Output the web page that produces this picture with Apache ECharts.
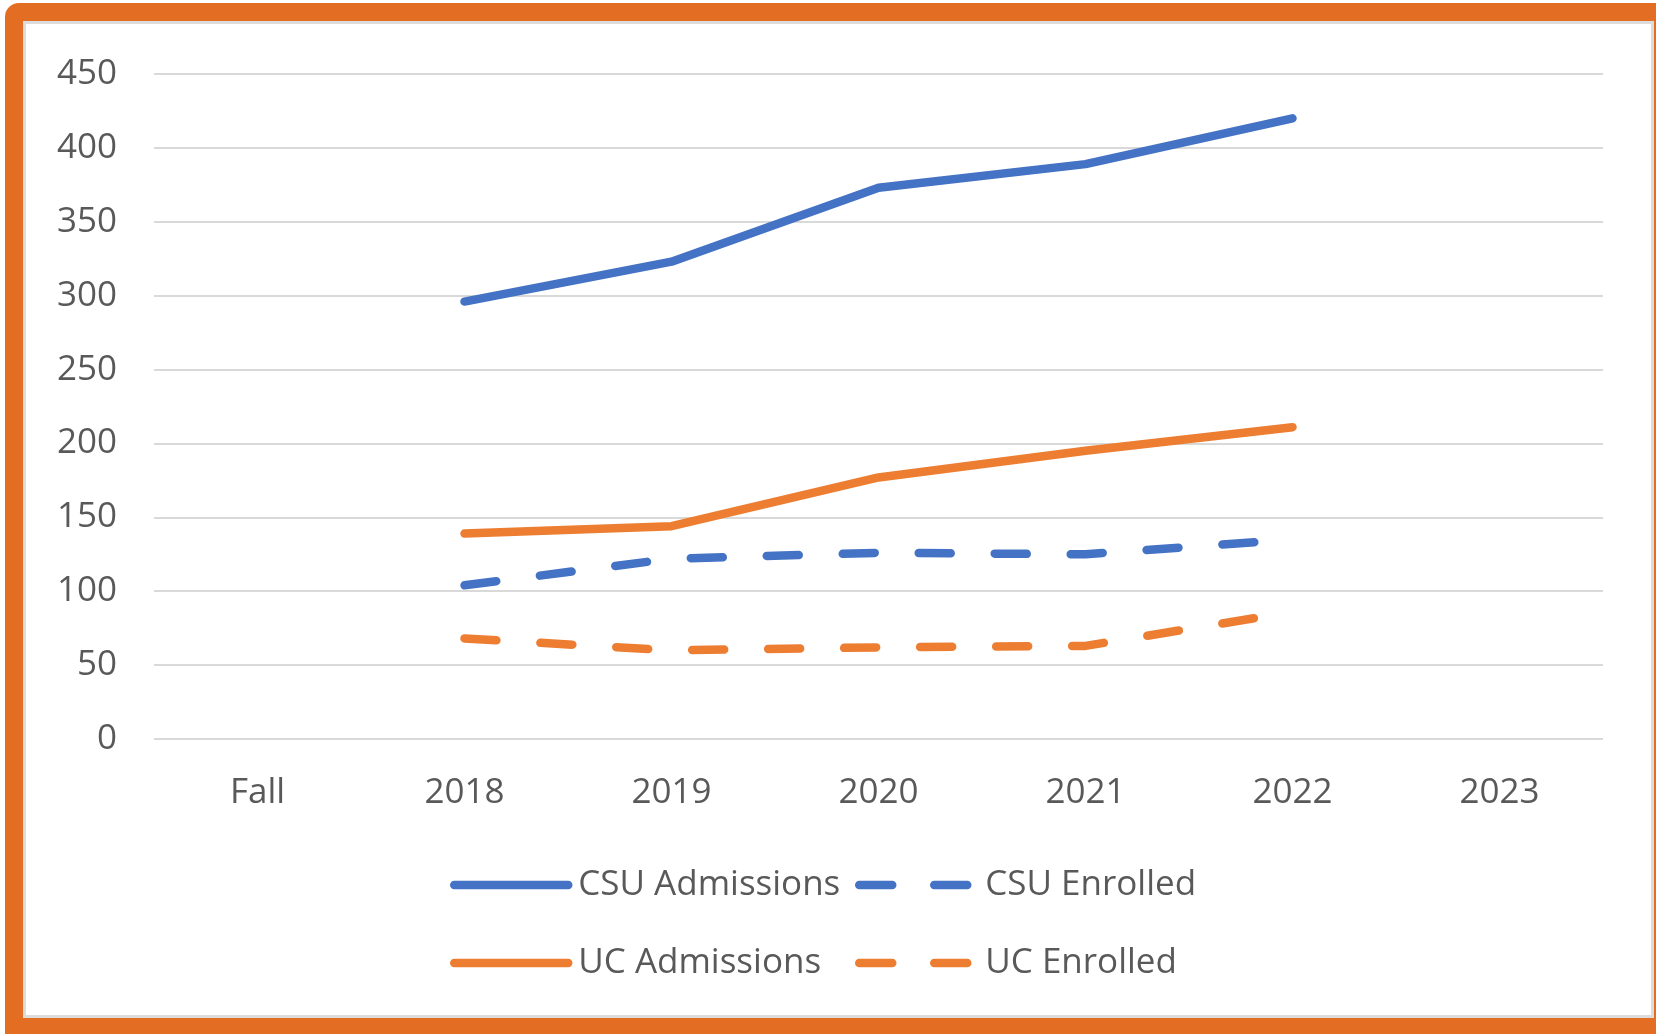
<!DOCTYPE html>
<html>
<head>
<meta charset="utf-8">
<script src="https://cdn.jsdelivr.net/npm/echarts@6/dist/echarts.min.js"></script>
<style>
html,body{margin:0;padding:0;background:#fff;overflow:hidden;}
#chart{position:absolute;left:0;top:0;width:1656px;height:1034px;}
#frame{position:absolute;left:5px;top:3px;width:1667px;height:1033px;box-sizing:border-box;border:18px solid #E46D24;border-radius:14px 0 0 0;box-shadow:inset 0 0 0 3px #DCDCDC;pointer-events:none;z-index:5;}
</style>
</head>
<body>
<div id="chart"></div>
<div id="frame"></div>
<script>
const categories = ['Fall', '2018', '2019', '2020', '2021', '2022', '2023'];
const csuAdmissions = ['-', 296, 323, 373, 389, 420, '-'];
const csuEnrolled   = ['-', 104, 122, 126, 125, 135, '-'];
const ucAdmissions  = ['-', 139, 144, 177, 195, 211, '-'];
const ucEnrolled    = ['-', 68, 60, 62, 63, 86, '-'];

const BLUE = '#4472C4', ORANGE = '#ED7D31', TXT = '#595959';
const FONT = '"Open Sans", sans-serif';
const LW = 8.5;
const DASH = [32, 44];

const chart = echarts.init(document.getElementById('chart'), null, {renderer: 'canvas'});
function line(name, data, color, dashed) {
  return {
    name, type: 'line', data, symbol: 'none', smooth: false,
    lineStyle: {color, width: LW, type: dashed ? DASH : 'solid', cap: 'round', join: 'round'},
    itemStyle: {color}
  };
}
const legendCommon = {
  orient: 'vertical', top: 864, padding: 0, itemWidth: 114, itemHeight: 14, itemGap: 36,
  itemStyle: {color: 'transparent', borderWidth: 0, opacity: 0}
};
const legendText = (pad) => ({fontFamily: FONT, fontSize: 35, color: TXT, padding: [0, 0, 0, pad], lineHeight: 42});
chart.setOption({
  backgroundColor: 'transparent',
  animation: false,
  grid: {left: 154, right: 53, top: 74, bottom: 295},
  xAxis: {
    type: 'category', data: categories, boundaryGap: true,
    axisLine: {show: false}, axisTick: {show: false},
    axisLabel: {fontFamily: FONT, fontSize: 35, color: TXT, margin: 37}
  },
  yAxis: {
    type: 'value', min: 0, max: 450, interval: 50,
    axisLine: {show: false}, axisTick: {show: false},
    axisLabel: {fontFamily: FONT, fontSize: 35, color: TXT, margin: 37},
    splitLine: {lineStyle: {color: '#D9D9D9', width: 2}}
  },
  legend: [
    Object.assign({}, legendCommon, {left: 450, data: ['CSU Admissions', 'UC Admissions'],
      textStyle: legendText(5), lineStyle: {width: 8.5, cap: 'round'}}),
    Object.assign({}, legendCommon, {left: 855, data: ['CSU Enrolled', 'UC Enrolled'],
      textStyle: legendText(7), lineStyle: {width: 8.5, type: [33, 42], cap: 'round'}})
  ],
  series: [
    line('CSU Admissions', csuAdmissions, BLUE, false),
    line('CSU Enrolled', csuEnrolled, BLUE, true),
    line('UC Admissions', ucAdmissions, ORANGE, false),
    line('UC Enrolled', ucEnrolled, ORANGE, true)
  ]
});
</script>
</body>
</html>
